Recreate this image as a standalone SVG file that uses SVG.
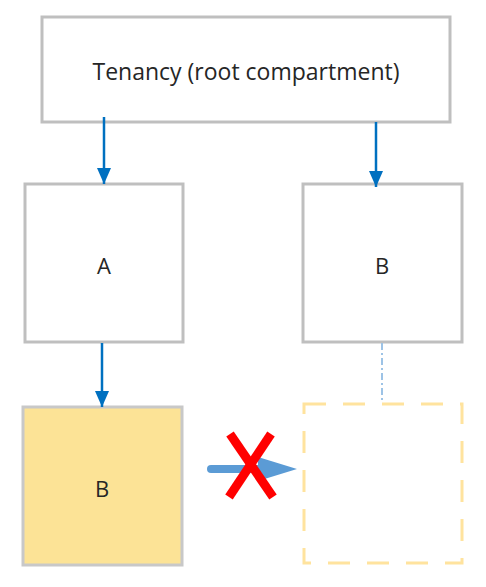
<svg xmlns="http://www.w3.org/2000/svg" width="486" height="587" viewBox="0 0 486 587">
<defs>
<style>
.box{fill:#ffffff;stroke:#bfbfbf;stroke-width:3}
.lbl{font-family:"Open Sans","Liberation Sans",sans-serif;font-size:22px;fill:#262626;text-anchor:middle;dominant-baseline:central}
.big{font-size:23px}
.conn{stroke:#0070c0;stroke-width:2.5;fill:none}
</style>
<marker id="ah" markerUnits="userSpaceOnUse" markerWidth="16" markerHeight="20" refX="16" refY="7" viewBox="0 0 16 14" orient="auto">
<path d="M0,0 L16,7 L0,14 Z" fill="#0070c0"/>
</marker>
</defs>
<rect width="486" height="587" fill="#ffffff"/>
<g id="tenancy">
<rect class="box" x="42" y="17" width="408" height="105"/>
<text class="lbl big" x="246" y="71">Tenancy (root compartment)</text>
</g>
<g id="nodeA">
<rect class="box" x="25" y="184" width="158" height="158"/>
<text class="lbl" x="104" y="265">A</text>
</g>
<g id="nodeB">
<rect class="box" x="303" y="184" width="159" height="158"/>
<text class="lbl" x="382" y="265">B</text>
</g>
<g id="nodeB2">
<rect x="23" y="407" width="159" height="158" fill="#fce396" stroke="#c8c8c8" stroke-width="3"/>
<text class="lbl" x="102" y="488">B</text>
</g>
<g id="placeholder">
<rect x="304" y="404" width="158" height="159" fill="none" stroke="#ffe39e" stroke-width="3" stroke-dasharray="22 17"/>
</g>
<g id="connectors">
<line class="conn" x1="104" y1="117" x2="104" y2="184" marker-end="url(#ah)"/>
<line class="conn" x1="376" y1="122" x2="376" y2="187" marker-end="url(#ah)"/>
<line class="conn" x1="102" y1="343" x2="102" y2="407" marker-end="url(#ah)"/>
<line x1="382" y1="343" x2="382" y2="400" stroke="#9dc3e6" stroke-width="2" stroke-dasharray="7 3 2 3"/>
<line x1="211" y1="469" x2="262" y2="469" stroke="#5b9bd5" stroke-width="8" stroke-linecap="round"/>
<path d="M258,457 L297,469 L258,481 Z" fill="#5b9bd5"/>
</g>
<g id="cross">
<line x1="230" y1="434" x2="273" y2="497" stroke="#ff0000" stroke-width="9"/>
<line x1="271" y1="434" x2="229" y2="497" stroke="#ff0000" stroke-width="9"/>
</g>
</svg>
